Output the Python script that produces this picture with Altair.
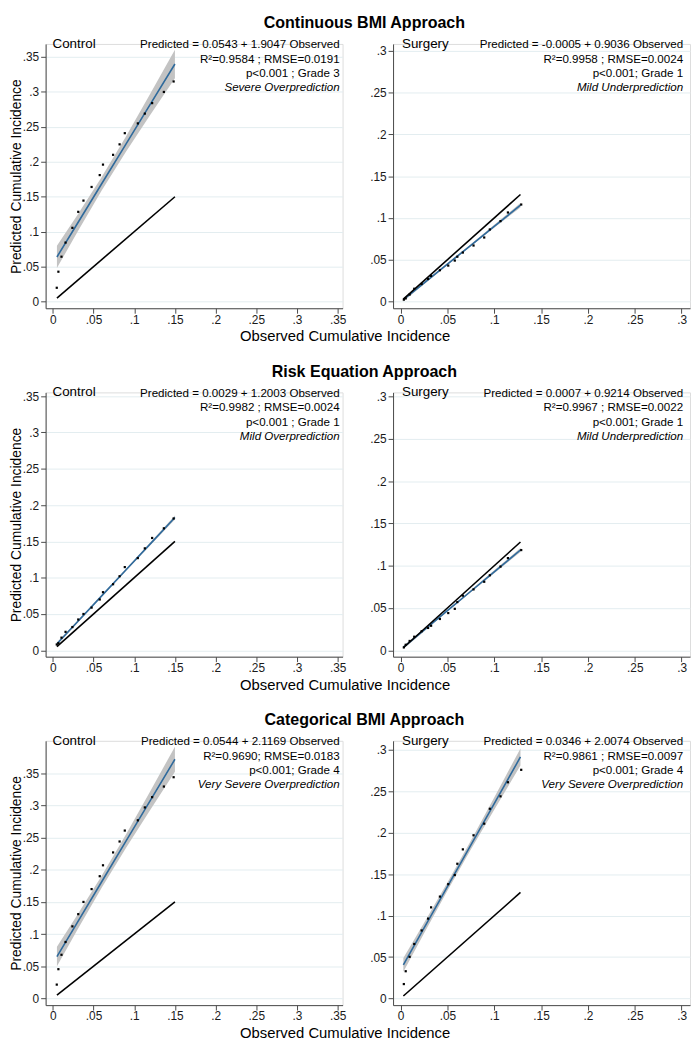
import altair as alt
import pandas as pd

FONT = "Liberation Sans"
W, H = 300, 267
AX = "#4a4a4a"
GRID = "#e3edf0"
BLUE = "#2f6a9c"
BAND = "#c3c3c3"

# ---------------- data ----------------
row_titles = ["Continuous BMI Approach", "Risk Equation Approach", "Categorical BMI Approach"]

control_x = [0.0048, 0.0068, 0.0106, 0.0156, 0.0240, 0.0312, 0.0376, 0.0476, 0.0576,
             0.0616, 0.0740, 0.0820, 0.0884, 0.1044, 0.1130, 0.1220, 0.1364, 0.1484]
surgery_x = [0.0035, 0.0055, 0.0097, 0.0146, 0.0225, 0.0294, 0.0326, 0.0420, 0.0509,
             0.0579, 0.0606, 0.0665, 0.0779, 0.0893, 0.0953, 0.1067, 0.1146, 0.1288]

cont_ctrl_y = [0.0197, 0.0427, 0.0642, 0.0844, 0.1055, 0.1284, 0.1445, 0.1640, 0.1810,
               0.1960, 0.2100, 0.2250, 0.2410, 0.2550, 0.2690, 0.2840, 0.3000, 0.3150]
risk_ctrl_y = [0.0080, 0.0098, 0.0174, 0.0254, 0.0320, 0.0424, 0.0500, 0.0588, 0.0700,
               0.0800, 0.0910, 0.1020, 0.1146, 0.1270, 0.1404, 0.1547, 0.1680, 0.1815]
cat_ctrl_y = [0.0214, 0.0454, 0.0678, 0.0877, 0.1120, 0.1310, 0.1500, 0.1700, 0.1900,
              0.2070, 0.2270, 0.2440, 0.2610, 0.2770, 0.2970, 0.3130, 0.3295, 0.3440]

cont_surg_y = [0.0023, 0.0038, 0.0084, 0.0153, 0.0210, 0.0270, 0.0306, 0.0375, 0.0430,
               0.0490, 0.0536, 0.0586, 0.0670, 0.0766, 0.0862, 0.0962, 0.1065, 0.1160]
risk_surg_y = [0.0034, 0.0065, 0.0110, 0.0160, 0.0225, 0.0264, 0.0290, 0.0370, 0.0440,
               0.0490, 0.0570, 0.0646, 0.0720, 0.0810, 0.0887, 0.0990, 0.1090, 0.1185]
cat_surg_y = [0.0174, 0.0329, 0.0503, 0.0658, 0.0821, 0.0964, 0.1100, 0.1230, 0.1380,
              0.1490, 0.1626, 0.1800, 0.1970, 0.2110, 0.2290, 0.2440, 0.2610, 0.2760]

# fitted line and confidence band, read at a few observed values
ctrl_band_x = [0.005, 0.03, 0.06, 0.09, 0.12, 0.15]
surg_band_x = [0.003, 0.025, 0.05, 0.075, 0.10, 0.128]

cont_ctrl_fit = [0.0638, 0.1114, 0.1686, 0.2257, 0.2829, 0.3400]
cont_ctrl_lo = [0.0479, 0.0993, 0.1590, 0.2148, 0.2678, 0.3196]
cont_ctrl_hi = [0.0797, 0.1235, 0.1782, 0.2366, 0.2980, 0.3604]

risk_ctrl_fit = [0.0089, 0.0389, 0.0749, 0.1109, 0.1469, 0.1829]
risk_ctrl_lo = [0.0069, 0.0374, 0.0737, 0.1095, 0.1450, 0.1803]
risk_ctrl_hi = [0.0109, 0.0404, 0.0761, 0.1123, 0.1488, 0.1855]

cat_ctrl_fit = [0.0650, 0.1179, 0.1814, 0.2449, 0.3084, 0.3719]
cat_ctrl_lo = [0.0498, 0.1063, 0.1722, 0.2344, 0.2939, 0.3523]
cat_ctrl_hi = [0.0802, 0.1295, 0.1906, 0.2554, 0.3229, 0.3915]

cont_surg_fit = [0.0022, 0.0221, 0.0447, 0.0673, 0.0899, 0.1152]
cont_surg_lo = [0.0001, 0.0206, 0.0435, 0.0660, 0.0881, 0.1126]
cont_surg_hi = [0.0043, 0.0236, 0.0459, 0.0686, 0.0917, 0.1178]

risk_surg_fit = [0.0035, 0.0237, 0.0468, 0.0698, 0.0928, 0.1186]
risk_surg_lo = [0.0016, 0.0223, 0.0457, 0.0686, 0.0911, 0.1163]
risk_surg_hi = [0.0054, 0.0251, 0.0479, 0.0710, 0.0945, 0.1209]

cat_surg_fit = [0.0406, 0.0848, 0.1350, 0.1851, 0.2353, 0.2915]
cat_surg_lo = [0.0323, 0.0785, 0.1301, 0.1797, 0.2279, 0.2812]
cat_surg_hi = [0.0489, 0.0911, 0.1399, 0.1905, 0.2427, 0.3018]

# line of perfect agreement (predicted = observed)
ctrl_identity = [0.005, 0.15]
surg_identity = [0.003, 0.128]

ctrl_ticks = [0, 0.05, 0.1, 0.15, 0.2, 0.25, 0.3, 0.35]
surg_ticks = [0, 0.05, 0.1, 0.15, 0.2, 0.25, 0.3]

cont_ctrl_text = ["Predicted = 0.0543 + 1.9047 Observed", "R\u00b2=0.9584 ; RMSE=0.0191",
                  "p<0.001 ; Grade 3", "Severe Overprediction"]
cont_surg_text = ["Predicted = -0.0005 + 0.9036 Observed", "R\u00b2=0.9958 ; RMSE=0.0024",
                  "p<0.001; Grade 1", "Mild Underprediction"]
risk_ctrl_text = ["Predicted = 0.0029 + 1.2003 Observed", "R\u00b2=0.9982 ; RMSE=0.0024",
                  "p<0.001 ; Grade 1", "Mild Overprediction"]
risk_surg_text = ["Predicted = 0.0007 + 0.9214 Observed", "R\u00b2=0.9967 ; RMSE=0.0022",
                  "p<0.001; Grade 1", "Mild Underprediction"]
cat_ctrl_text = ["Predicted = 0.0544 + 2.1169 Observed", "R\u00b2=0.9690; RMSE=0.0183",
                 "p<0.001; Grade 4", "Very Severe Overprediction"]
cat_surg_text = ["Predicted = 0.0346 + 2.0074 Observed", "R\u00b2=0.9861 ; RMSE=0.0097",
                 "p<0.001; Grade 4", "Very Severe Overprediction"]

# ---------------- chart construction ----------------
LBL = "datum.value == 0 ? '0' : substring(format(datum.value, '.2~f'), 1)"


def make_panel(px, py, bx, blo, bhi, bfit, ident, xdom, ydom, xticks, yticks,
               group, lines, left, label_x, text_right, row_title=None):
    xscale = alt.Scale(domain=xdom, nice=False, zero=False)
    yscale = alt.Scale(domain=ydom, nice=False, zero=False)
    common = dict(domainColor=AX, tickColor=AX, tickSize=5, domainWidth=1, tickWidth=1,
                  labelFontSize=12, labelColor="#1a1a1a", labelFont=FONT,
                  labelExpr=LBL, labelFlush=False, labelOverlap=False)
    if left:
        xaxis = alt.Axis(values=xticks, grid=False, labelPadding=1,
                         title="Observed Cumulative Incidence", titleX=302, titleY=33,
                         titleAlign="center", titleBaseline="alphabetic", titleFontSize=15,
                         titleFontWeight="normal", titleColor="black", titleFont=FONT, **common)
        yaxis = alt.Axis(values=yticks, grid=True, gridColor=GRID, gridWidth=1, labelPadding=2,
                         title="Predicted Cumulative Incidence", titleAngle=270, titleX=-25,
                         titleY=H / 2, titleAlign="center", titleBaseline="alphabetic",
                         titleFontSize=14, titleFontWeight="normal", titleColor="black",
                         titleFont=FONT, **common)
    else:
        xaxis = alt.Axis(values=xticks, grid=False, labelPadding=1, title=None, **common)
        yaxis = alt.Axis(values=yticks, grid=True, gridColor=GRID, gridWidth=1, labelPadding=2,
                         title=None, **common)

    X = alt.X("x:Q", scale=xscale, axis=xaxis)
    band_df = pd.DataFrame({"x": bx, "lo": blo, "hi": bhi, "fit": bfit})
    pts_df = pd.DataFrame({"x": px, "y": py})
    id_df = pd.DataFrame({"x": ident, "y": ident})

    band = alt.Chart(band_df).mark_area(color=BAND, opacity=1).encode(
        x=X, y=alt.Y("lo:Q", scale=yscale, axis=yaxis), y2="hi:Q")
    fit = alt.Chart(band_df).mark_line(color=BLUE, strokeWidth=1.6).encode(
        x=X, y=alt.Y("fit:Q", scale=yscale, axis=yaxis))
    idl = alt.Chart(id_df).mark_line(color="black", strokeWidth=1.6).encode(
        x=X, y=alt.Y("y:Q", scale=yscale, axis=yaxis))
    pts = alt.Chart(pts_df).mark_square(color="black", size=5, opacity=1).encode(
        x=X, y=alt.Y("y:Q", scale=yscale, axis=yaxis))

    layers = [band, fit, idl, pts]
    grp = alt.Chart(pd.DataFrame({"t": [group]})).mark_text(
        align="left", baseline="alphabetic", fontSize=13.5, font=FONT, color="black"
    ).encode(x=alt.value(label_x), y=alt.value(4), text="t:N")
    layers.append(grp)
    offsets = [4.5, 19, 33.5, 48]
    for i, line in enumerate(lines):
        kw = dict(align="right", baseline="alphabetic", fontSize=11.7, font=FONT, color="black")
        if i == 3:
            kw["fontStyle"] = "italic"
        layers.append(alt.Chart(pd.DataFrame({"t": [line]})).mark_text(**kw).encode(
            x=alt.value(text_right), y=alt.value(offsets[i]), text="t:N"))
    if row_title:
        layers.append(alt.Chart(pd.DataFrame({"t": [row_title]})).mark_text(
            align="center", baseline="alphabetic", fontSize=16.2, fontWeight="bold",
            font=FONT, color="black"
        ).encode(x=alt.value(322), y=alt.value(-16), text="t:N"))

    return alt.layer(*layers).properties(width=W, height=H)


CX = [-0.0089, 0.356]
SX = [-0.008, 0.309]

p11 = make_panel(control_x, cont_ctrl_y, ctrl_band_x, cont_ctrl_lo, cont_ctrl_hi, cont_ctrl_fit,
                 ctrl_identity, CX, [-0.0096, 0.3687], ctrl_ticks, ctrl_ticks, "Control",
                 cont_ctrl_text, True, 7, 297, row_titles[0])
p12 = make_panel(surgery_x, cont_surg_y, surg_band_x, cont_surg_lo, cont_surg_hi, cont_surg_fit,
                 surg_identity, SX, [-0.008, 0.308], surg_ticks, surg_ticks, "Surgery",
                 cont_surg_text, False, 9, 293)
p21 = make_panel(control_x, risk_ctrl_y, ctrl_band_x, risk_ctrl_lo, risk_ctrl_hi, risk_ctrl_fit,
                 ctrl_identity, CX, [-0.0088, 0.3552], ctrl_ticks, ctrl_ticks, "Control",
                 risk_ctrl_text, True, 7, 297, row_titles[1])
p22 = make_panel(surgery_x, risk_surg_y, surg_band_x, risk_surg_lo, risk_surg_hi, risk_surg_fit,
                 surg_identity, SX, [-0.0076, 0.305], surg_ticks, surg_ticks, "Surgery",
                 risk_surg_text, False, 9, 293)
p31 = make_panel(control_x, cat_ctrl_y, ctrl_band_x, cat_ctrl_lo, cat_ctrl_hi, cat_ctrl_fit,
                 ctrl_identity, CX, [-0.0105, 0.4006], ctrl_ticks, ctrl_ticks, "Control",
                 cat_ctrl_text, True, 7, 297, row_titles[2])
p32 = make_panel(surgery_x, cat_surg_y, surg_band_x, cat_surg_lo, cat_surg_hi, cat_surg_fit,
                 surg_identity, SX, [-0.008, 0.311], surg_ticks, surg_ticks, "Surgery",
                 cat_surg_text, False, 9, 293)

chart = alt.concat(p11, p12, p21, p22, p31, p32, columns=2,
                   spacing={"row": 85, "column": 51}, bounds="flush").properties(
    padding={"left": 1, "top": 1, "right": 1, "bottom": 1}
).configure_view(strokeWidth=0).configure(font=FONT, background="white")

chart.save("out.html", embed_options={"renderer": "svg", "actions": False})
